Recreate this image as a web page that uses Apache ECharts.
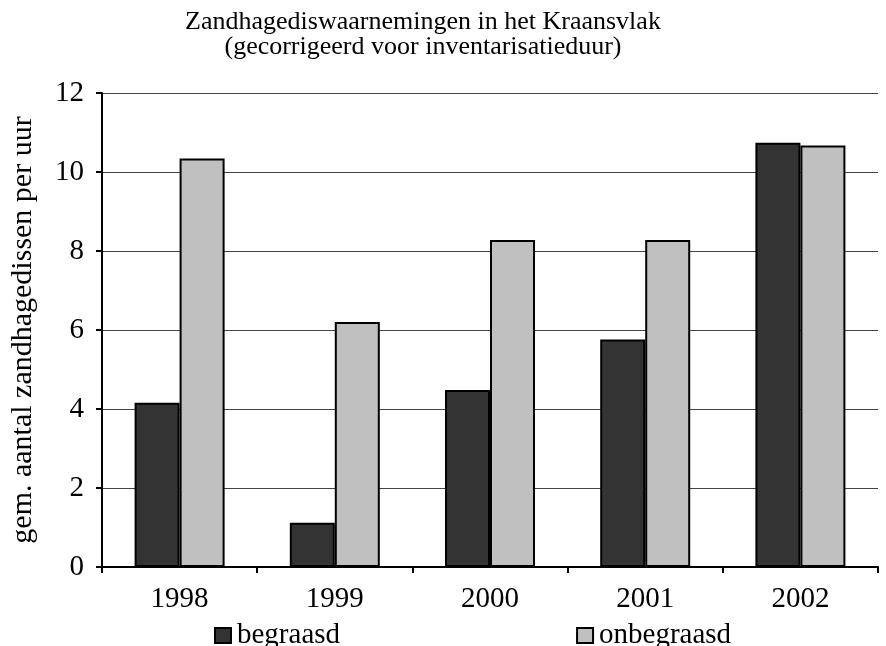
<!DOCTYPE html>
<html>
<head>
<meta charset="utf-8">
<script src="https://cdn.jsdelivr.net/npm/echarts@6/dist/echarts.min.js"></script>
<style>
  html, body { margin: 0; padding: 0; background: #fff; }
  #chart { width: 886px; height: 646px; }
</style>
</head>
<body>
<div id="chart"></div>
<script>
  // jaren en waarden (gem. aantal zandhagedissen per uur)
  var years = ['1998', '1999', '2000', '2001', '2002']
  var begraasd = [4.16, 1.12, 4.48, 5.76, 10.74]
  var onbegraasd = [10.34, 6.20, 8.28, 8.28, 10.67]
  var yTicks = [0, 2, 4, 6, 8, 10, 12]

  var serif = 'Liberation Serif'
  var chart = echarts.init(document.getElementById('chart'))

  chart.setOption({
    animation: false,
    backgroundColor: '#fff',
    title: {
      text: 'Zandhagediswaarnemingen in het Kraansvlak\n(gecorrigeerd voor inventarisatieduur)',
      left: 418,
      top: 5,
      textAlign: 'center',
      textStyle: {
        fontFamily: serif,
        fontWeight: 'normal',
        fontSize: 26,
        lineHeight: 25,
        color: '#000'
      }
    },
    legend: {
      data: ['begraasd', 'onbegraasd'],
      left: 214,
      top: 621,
      padding: 0,
      itemGap: 236,
      itemWidth: 16,
      itemHeight: 15,
      icon: 'rect',
      textStyle: { fontFamily: serif, fontSize: 29, color: '#000', padding: [0, 0, 0, 1] }
    },
    grid: {
      left: 100,
      right: 8,
      top: 93,
      bottom: 79
    },
    xAxis: {
      type: 'category',
      data: years,
      axisLine: { lineStyle: { color: '#000', width: 2 } },
      axisTick: { show: true, length: 6, lineStyle: { color: '#000', width: 2 } },
      axisLabel: { fontFamily: serif, fontSize: 29, color: '#000', margin: 18 }
    },
    yAxis: {
      type: 'value',
      min: yTicks[0],
      max: yTicks[yTicks.length - 1],
      interval: 2,
      name: 'gem. aantal zandhagedissen per uur',
      nameLocation: 'middle',
      nameGap: 64,
      nameTextStyle: { fontFamily: serif, fontSize: 30, color: '#000' },
      axisLine: { show: true, lineStyle: { color: '#000', width: 2 } },
      axisTick: { show: true, length: 6, lineStyle: { color: '#000', width: 2 } },
      axisLabel: { fontFamily: serif, fontSize: 29, color: '#000', margin: 18 },
      splitLine: { lineStyle: { color: '#444', width: 1 } }
    },
    series: [
      {
        name: 'begraasd',
        type: 'bar',
        data: begraasd,
        barWidth: 45,
        barGap: '0%',
        itemStyle: { color: '#333333', borderColor: '#000', borderWidth: 2 }
      },
      {
        name: 'onbegraasd',
        type: 'bar',
        data: onbegraasd,
        barWidth: 45,
        barGap: '0%',
        itemStyle: { color: '#c0c0c0', borderColor: '#000', borderWidth: 2 }
      }
    ]
  })
</script>
</body>
</html>
